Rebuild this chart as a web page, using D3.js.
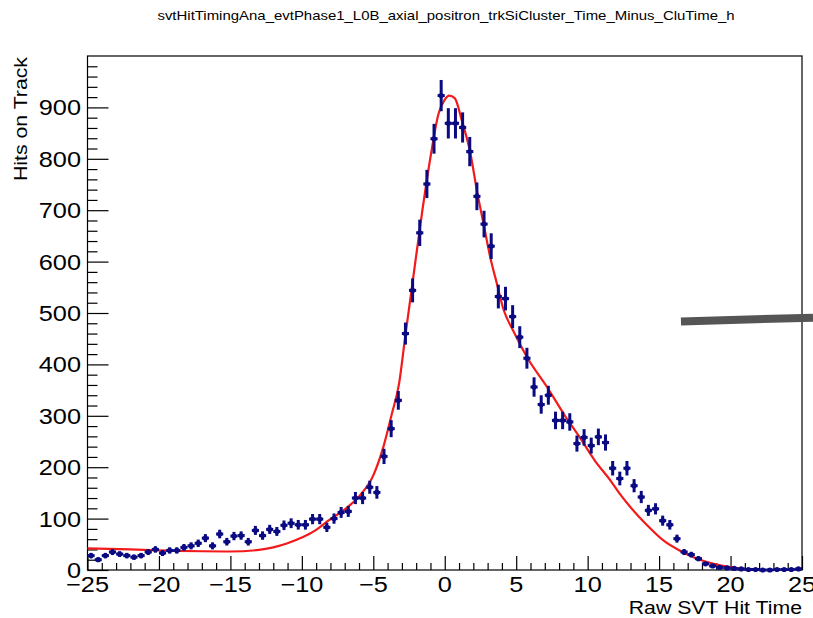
<!DOCTYPE html>
<html lang="en">
<head>
    <meta charset="UTF-8">
    <title>svtHitTiming</title>
    <script src="https://cdn.jsdelivr.net/npm/d3@7/dist/d3.min.js"></script>
    <style>
        body { margin: 0; background: #fff; }
        text { font-family: "Liberation Sans", Arial, sans-serif; fill: #000; }
    </style>
</head>
<body>
<svg id="main" width="813" height="618"></svg>
<script>
    // histogram: 100 bins of 0.5 from -25 to 25
    const binLow = -25;
    const binWidth = 0.5;
    const counts = [
        28, 20, 28, 35, 31, 28, 25, 28, 35, 40,
        33, 38, 38, 44, 47, 52, 62, 47, 70, 55,
        66, 67, 55, 77, 67, 79, 75, 87, 91, 88,
        88, 99, 99, 83, 100, 112, 114, 140, 140, 161,
        151, 221, 275, 330, 460, 544, 656, 751, 839, 923,
        869, 869, 861, 814, 727, 673, 630, 532, 528, 493,
        453, 412, 356, 322, 340, 291, 291, 288, 246, 258,
        242, 259, 248, 198, 178, 198, 164, 142, 116, 119,
        96, 88, 61, 35, 30, 22, 12, 8, 5, 4,
        3, 2, 1, 1, 0, 0, 1, 1, 1, 2
    ];

    // fitted curve
    const fitX = [-25, -22, -20, -17, -15, -13, -12, -11, -10, -9, -8.25, -7, -6, -5, -4.3, -3.7, -3.2,
        -2.77, -2.2, -1.6, -1.0, -0.44, 0, 0.3, 0.7, 1.2, 1.8, 2.25, 2.72, 3.18, 3.65, 4.1, 4.8,
        5.76, 7.16, 8.32, 9.49, 10.5, 11.6, 12.2, 13.0, 14.16, 15.32, 16.5, 17.66, 18.82, 20.0, 21.16, 22.3];
    const fitY = [42, 40, 38, 36.5, 36, 39, 44, 52, 63, 78, 94, 118, 143, 184, 239, 304, 362,
        453, 570, 693, 803, 887, 915, 923, 918, 874, 810, 738, 673, 609, 557, 508, 465,
        414, 356, 304, 256, 213, 174, 150, 122, 87, 57, 37, 22, 12, 5.5, 1.5, 0];

    // stray grey stroke on the right side of the picture
    const strokeX = [16.53, 25.77];
    const strokeY = [483.5, 491];

    const xTicks = d3.range(-25, 26, 5);
    const yTicks = d3.range(0, 901, 100);

    const title = 'svtHitTimingAna_evtPhase1_L0B_axial_positron_trkSiCluster_Time_Minus_CluTime_h';
    const xTitle = 'Raw SVT Hit Time';
    const yTitle = 'Hits on Track';

    const svg = d3.select('svg#main');
    const padL = 87.5, padR = 802, padT = 56, padB = 570;
    const stretch = 1.15;
    const markColor = '#0a0a82';

    const x = d3.scaleLinear().domain([-25, 25]).range([padL, padR]);
    const y = d3.scaleLinear().domain([0, 1000]).range([padB, padT]);

    // frame
    svg.append('rect')
        .attr('x', padL).attr('y', padT)
        .attr('width', padR - padL).attr('height', padB - padT)
        .attr('fill', 'none').attr('stroke', '#000').attr('stroke-width', 1.2);

    // x ticks
    const xAxis = d3.axisTop(x).tickValues(d3.range(-25, 26, 1))
        .tickSize(0).tickFormat('');
    const gx = svg.append('g').attr('transform', 'translate(0,' + padB + ')');
    gx.call(xAxis);
    gx.select('.domain').remove();
    gx.selectAll('.tick line')
        .attr('stroke', '#000').attr('stroke-width', 1.2)
        .attr('y2', d => d % 5 === 0 ? -14 : -7);

    // y ticks
    const yAxis = d3.axisRight(y).tickValues(d3.range(0, 1000, 20))
        .tickSize(0).tickFormat('');
    const gy = svg.append('g').attr('transform', 'translate(' + padL + ',0)');
    gy.call(yAxis);
    gy.select('.domain').remove();
    gy.selectAll('.tick line')
        .attr('stroke', '#000').attr('stroke-width', 1.2)
        .attr('x2', d => d % 100 === 0 ? 21 : 10);

    function label(px, py, txt, size, anchor, rot) {
        let t = 'translate(' + px + ',' + py + ')';
        if (rot) t += ' rotate(' + rot + ')';
        t += ' scale(' + stretch + ',1)';
        return svg.append('text')
            .attr('transform', t)
            .attr('text-anchor', anchor)
            .style('font-size', size + 'px')
            .text(txt);
    }

    xTicks.forEach(v => {
        label(x(v), 592, (v < 0 ? '\u2212' : '') + Math.abs(v), 22, 'middle');
    });
    yTicks.forEach(v => {
        label(81, y(v) + 8, String(v), 22, 'end');
    });

    label(446, 20, title, 13, 'middle');
    label(802, 614, xTitle, 18.5, 'end');
    label(27, 57, yTitle, 18.5, 'end', -90);

    // fit curve
    const fitData = fitX.map((v, i) => [v, fitY[i]]);
    svg.append('path')
        .datum(fitData)
        .attr('fill', 'none')
        .attr('stroke', '#f21a1a')
        .attr('stroke-width', 2.2)
        .attr('d', d3.line()
            .x(d => x(d[0])).y(d => y(d[1]))
            .curve(d3.curveMonotoneX));

    // histogram points with errors
    const bins = counts.map((c, i) => ({
        lo: binLow + i * binWidth,
        mid: binLow + (i + 0.5) * binWidth,
        hi: binLow + (i + 1) * binWidth,
        c: c,
        e: Math.sqrt(c)
    }));

    const pts = svg.append('g').attr('stroke', markColor).attr('stroke-width', 3);
    pts.selectAll('line.h').data(bins).enter().append('line')
        .attr('class', 'h')
        .attr('x1', d => x(d.lo)).attr('x2', d => x(d.hi))
        .attr('y1', d => y(d.c)).attr('y2', d => y(d.c));
    pts.selectAll('line.v').data(bins.filter(d => d.c > 0)).enter().append('line')
        .attr('class', 'v')
        .attr('x1', d => x(d.mid)).attr('x2', d => x(d.mid))
        .attr('y1', d => y(d.c - d.e)).attr('y2', d => y(d.c + d.e));
    svg.append('g').selectAll('circle').data(bins).enter().append('circle')
        .attr('cx', d => x(d.mid)).attr('cy', d => y(d.c))
        .attr('r', 2.6).attr('fill', markColor);

    // grey stroke
    svg.append('line')
        .attr('x1', x(strokeX[0])).attr('y1', y(strokeY[0]))
        .attr('x2', x(strokeX[1])).attr('y2', y(strokeY[1]))
        .attr('stroke', '#555').attr('stroke-width', 8);
</script>
</body>
</html>
